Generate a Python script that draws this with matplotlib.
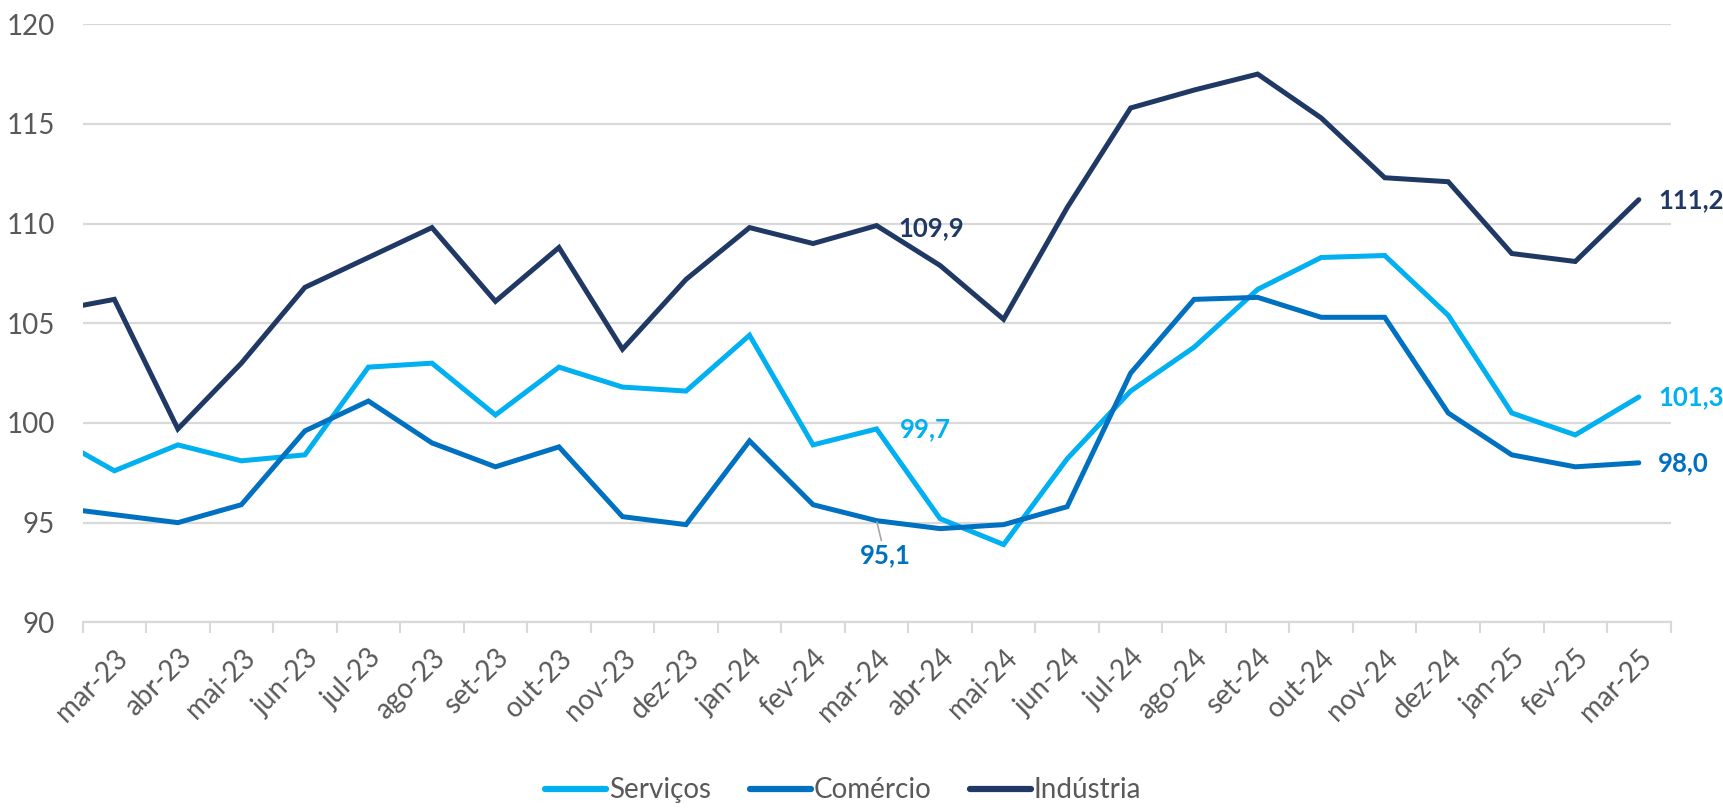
import numpy as np
import matplotlib
matplotlib.use("Agg")
import matplotlib.pyplot as plt

plt.rcParams['font.family'] = ['Lato', 'DejaVu Sans']

# categories (fev-23 is only there so the first segment runs to the left edge, as in the source)
months = ['fev-23', 'mar-23', 'abr-23', 'mai-23', 'jun-23', 'jul-23', 'ago-23', 'set-23', 'out-23',
          'nov-23', 'dez-23', 'jan-24', 'fev-24', 'mar-24', 'abr-24', 'mai-24', 'jun-24',
          'jul-24', 'ago-24', 'set-24', 'out-24', 'nov-24', 'dez-24', 'jan-25', 'fev-25', 'mar-25']

servicos = [99.4, 97.6, 98.9, 98.1, 98.4, 102.8, 103.0, 100.4, 102.8, 101.8, 101.6, 104.4, 98.9,
            99.7, 95.2, 93.9, 98.2, 101.6, 103.8, 106.7, 108.3, 108.4, 105.4, 100.5, 99.4, 101.3]
comercio = [95.8, 95.4, 95.0, 95.9, 99.6, 101.1, 99.0, 97.8, 98.8, 95.3, 94.9, 99.1, 95.9,
            95.1, 94.7, 94.9, 95.8, 102.5, 106.2, 106.3, 105.3, 105.3, 100.5, 98.4, 97.8, 98.0]
industria = [105.6, 106.2, 99.7, 103.0, 106.8, 108.3, 109.8, 106.1, 108.8, 103.7, 107.2, 109.8, 109.0,
             109.9, 107.9, 105.2, 110.8, 115.8, 116.7, 117.5, 115.3, 112.3, 112.1, 108.5, 108.1, 111.2]

c_serv = '#00B0F0'
c_com = '#0070C0'
c_ind = '#203864'
grid_c = '#D9D9D9'
txt_c = '#595959'

x = np.arange(len(months)) - 1  # mar-23 at 0

fig = plt.figure(figsize=(17.24, 8.08), dpi=100)
ax = fig.add_axes([0.0479, 0.2298, 0.9211, 0.7402])

lw = 3.6
ax.plot(x, servicos, color=c_serv, lw=lw, label='Serviços', solid_capstyle='round', solid_joinstyle='miter')
ax.plot(x, comercio, color=c_com, lw=lw, label='Comércio', solid_capstyle='round', solid_joinstyle='miter')
ax.plot(x, industria, color=c_ind, lw=lw, label='Indústria', solid_capstyle='round', solid_joinstyle='miter')

ax.set_xlim(-0.5, len(months) - 1.5)
ax.set_ylim(90, 120)
ax.set_yticks(np.arange(90, 121, 5))
ax.yaxis.grid(True, color=grid_c, lw=1.6)
ax.set_axisbelow(True)
ax.tick_params(axis='y', length=0, pad=20, labelsize=20, labelcolor=txt_c)

# tick marks at category boundaries, labels at category centers
ax.set_xticks(np.arange(-0.5, len(months) - 1, 1.0))
ax.set_xticklabels([])
ax.tick_params(axis='x', which='major', length=8, width=1.5, color=grid_c)
ax.set_xticks(x[1:], minor=True)
ax.set_xticklabels(months[1:], minor=True, rotation=45, ha='right', rotation_mode='anchor')
ax.tick_params(axis='x', which='minor', length=0, pad=16, labelsize=20, labelcolor=txt_c)

for s in ['top', 'right', 'left']:
    ax.spines[s].set_visible(False)
ax.spines['bottom'].set_color(grid_c)
ax.spines['bottom'].set_linewidth(1.6)

# data labels
i_mar24 = months.index('mar-24')
fs = 18.5
ax.annotate('109,9', (x[i_mar24], industria[i_mar24]), xytext=(16, -2), textcoords='offset points',
            ha='left', va='center', fontsize=fs, fontweight='bold', color=c_ind)
ax.annotate('99,7', (x[i_mar24], servicos[i_mar24]), xytext=(17, 0), textcoords='offset points',
            ha='left', va='center', fontsize=fs, fontweight='bold', color=c_serv)
ax.annotate('95,1', (x[i_mar24], comercio[i_mar24]), xytext=(6, -25), textcoords='offset points',
            ha='center', va='center', fontsize=fs, fontweight='bold', color=c_com,
            arrowprops=dict(arrowstyle='-', color='#A6A6A6', lw=1.2, shrinkA=0, shrinkB=1))

for vals, col in [(industria, c_ind), (servicos, c_serv), (comercio, c_com)]:
    ax.annotate(f'{vals[-1]:.1f}'.replace('.', ','), (x[-1], vals[-1]), xytext=(14, 0),
                textcoords='offset points', ha='left', va='center', fontsize=fs,
                fontweight='bold', color=col, annotation_clip=False)

leg = fig.legend(loc='center', bbox_to_anchor=(0.489, 0.022), ncol=3, frameon=False,
                 fontsize=20, handlelength=2.2, handletextpad=0.1, columnspacing=1.4)
for t in leg.get_texts():
    t.set_color(txt_c)
for h in leg.get_lines():
    h.set_linewidth(4.5)

fig.savefig('out.png', dpi=100)
